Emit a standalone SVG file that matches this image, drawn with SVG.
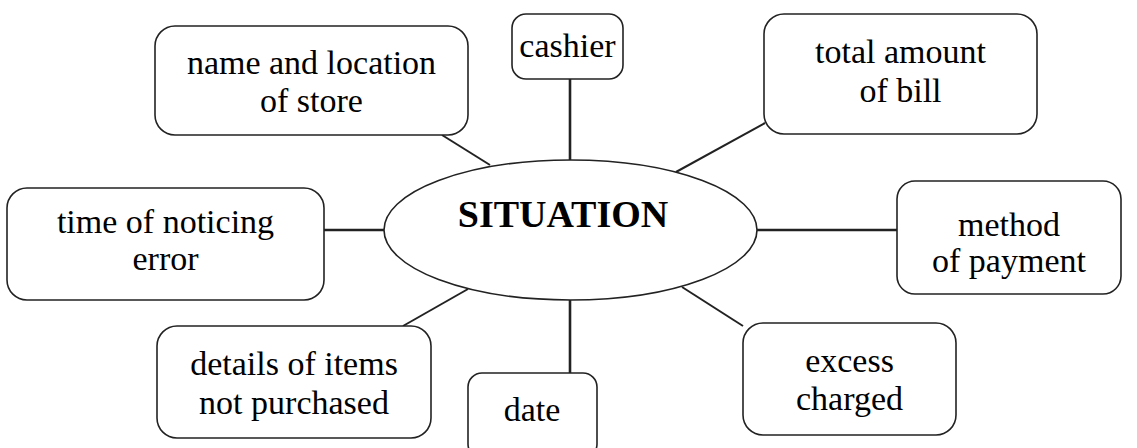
<svg xmlns="http://www.w3.org/2000/svg" width="1137" height="448" viewBox="0 0 1137 448">
<style>
.box{fill:#fff;stroke:#222;stroke-width:1.6}
.t{font-family:'Liberation Serif','Times New Roman','DejaVu Serif',serif;font-size:34px;fill:#000;text-anchor:middle}
.b{font-weight:bold;font-size:38px}
.c{stroke:#222;stroke-width:2;fill:none}
.ct{stroke:#222;stroke-width:2.6;fill:none}
</style>
<rect width="1137" height="448" fill="#fff"/>
<g id="connectors">
<line class="c" x1="442" y1="135" x2="490" y2="165"/>
<line class="ct" x1="570" y1="79" x2="570" y2="160"/>
<line class="c" x1="765" y1="123" x2="676" y2="172"/>
<line class="ct" x1="757" y1="230" x2="897" y2="230"/>
<line class="ct" x1="324" y1="230" x2="384" y2="230"/>
<line class="c" x1="403" y1="326" x2="468" y2="289"/>
<line class="ct" x1="570" y1="300" x2="570" y2="373"/>
<line class="c" x1="682" y1="287" x2="743" y2="326"/>
</g>
<g id="situation">
<ellipse class="box" cx="570.5" cy="230" rx="186.5" ry="70"/>
<text class="t b" x="563" y="227" font-family="Liberation Serif, serif">SITUATION</text>
</g>
<g id="name-location">
<rect class="box" x="155" y="26" width="313" height="109" rx="20"/>
<text class="t" x="311.5" y="74">name and location</text>
<text class="t" x="311.5" y="112">of store</text>
</g>
<g id="cashier">
<rect class="box" x="512" y="14" width="111" height="65" rx="14"/>
<text class="t" x="567.5" y="57">cashier</text>
</g>
<g id="total">
<rect class="box" x="764" y="14" width="273" height="120" rx="20"/>
<text class="t" x="900.5" y="63">total amount</text>
<text class="t" x="900.5" y="102">of bill</text>
</g>
<g id="method">
<rect class="box" x="897" y="181" width="224" height="113" rx="18"/>
<text class="t" x="1009" y="236">method</text>
<text class="t" x="1009" y="272">of payment</text>
</g>
<g id="time">
<rect class="box" x="7" y="188" width="317" height="112" rx="20"/>
<text class="t" x="165.5" y="233">time of noticing</text>
<text class="t" x="165.5" y="270">error</text>
</g>
<g id="details">
<rect class="box" x="157" y="326" width="274" height="112" rx="20"/>
<text class="t" x="294" y="375">details of items</text>
<text class="t" x="294" y="414">not purchased</text>
</g>
<g id="date">
<rect class="box" x="468" y="373" width="129" height="85" rx="14"/>
<text class="t" x="532" y="421">date</text>
</g>
<g id="excess">
<rect class="box" x="743" y="323" width="213" height="112" rx="20"/>
<text class="t" x="849.5" y="372">excess</text>
<text class="t" x="849.5" y="410">charged</text>
</g>
</svg>
